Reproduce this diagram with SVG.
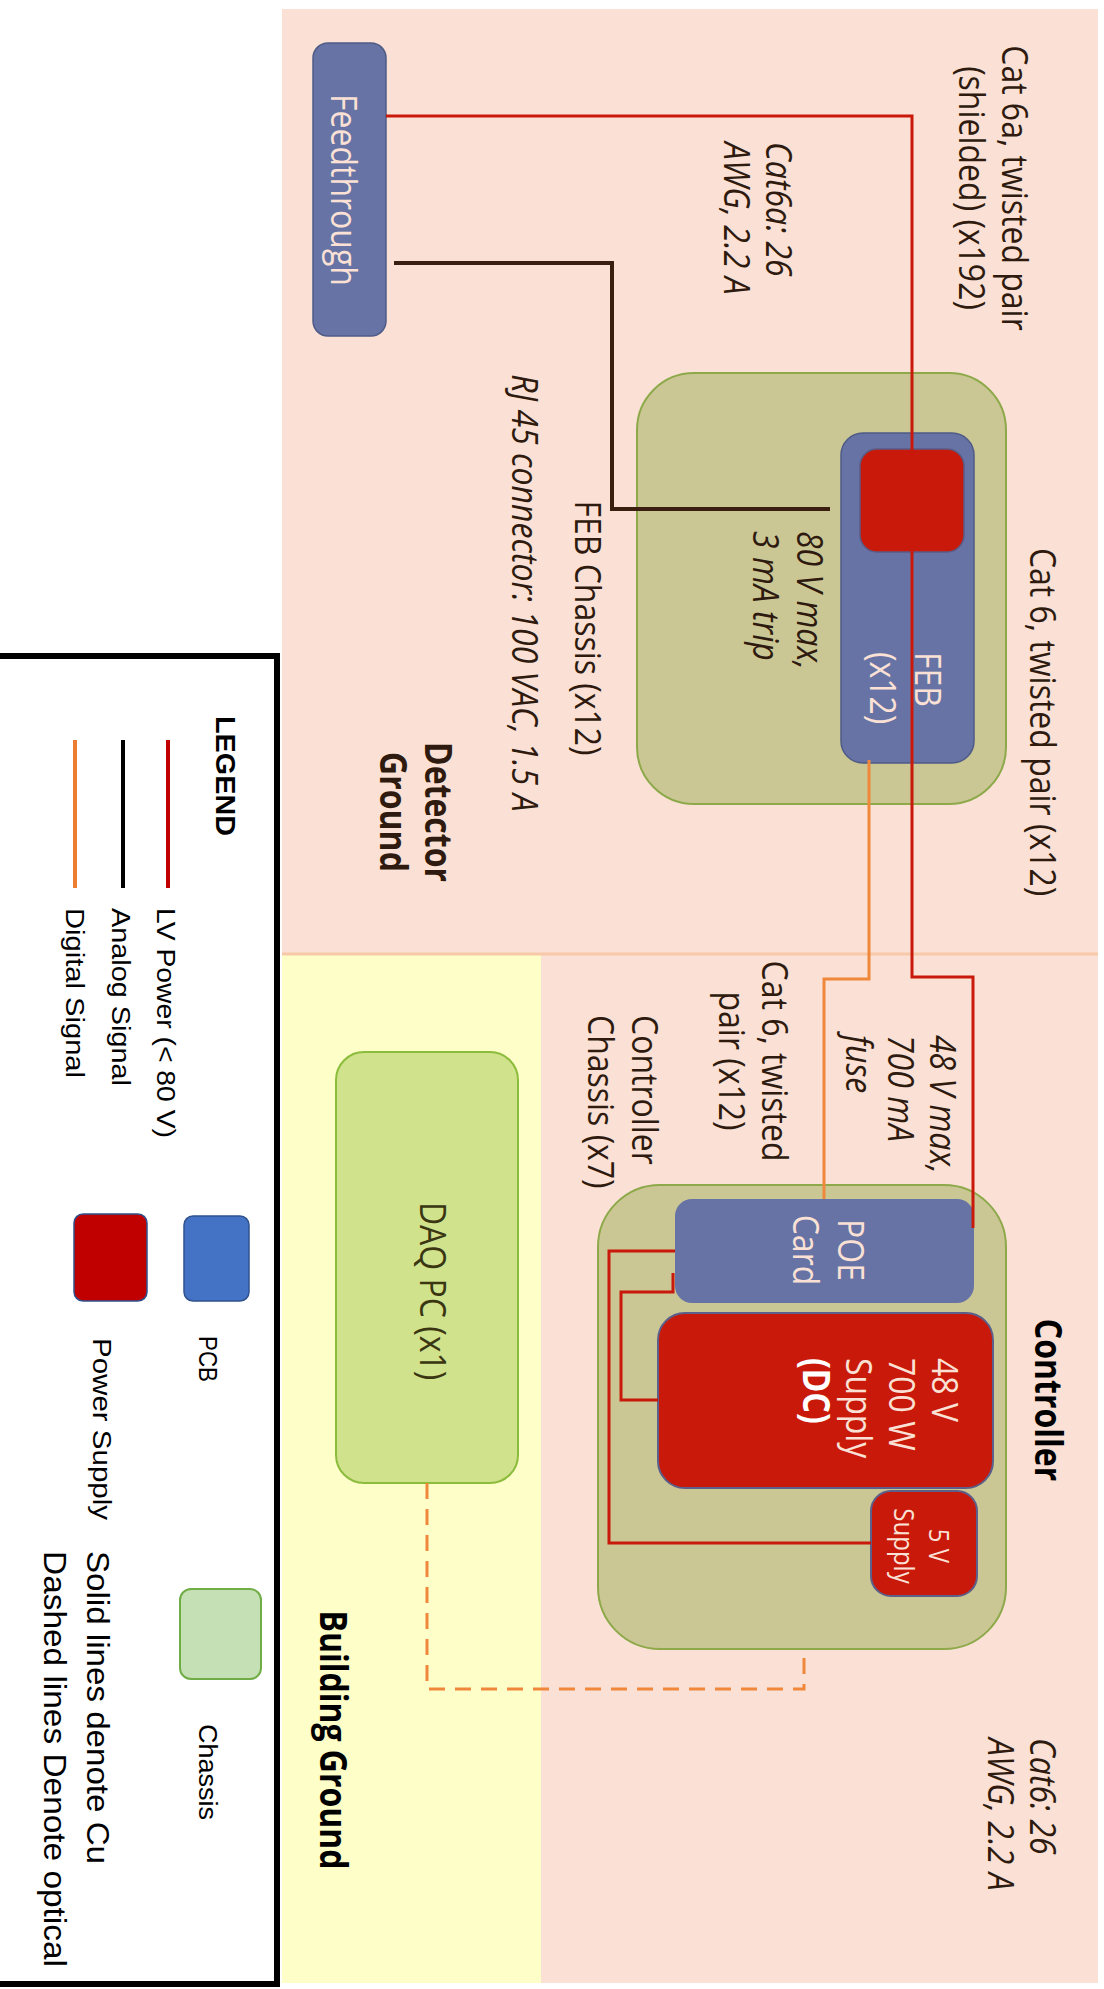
<svg xmlns="http://www.w3.org/2000/svg" width="1104" height="1989" viewBox="0 0 1104 1989">
<style>
.t{font-family:"Open Sans","Noto Sans",sans-serif;font-size:32px;fill:#2e1a0e}
.i{font-style:italic}
.b{font-weight:bold}
.lt{fill:#fbe1d5}
.blk{fill:#000}
.lg{font-family:"Liberation Sans",Arial,sans-serif;font-size:26px;fill:#000}
.chassis{fill:#cbc795;stroke:#8da94a;stroke-width:2}
.pcb{fill:#6673a4;stroke:#4f5b87;stroke-width:1.5}
.ps{fill:#c8190a;stroke:#5b5f8a;stroke-width:2}
.w{fill:none;stroke-width:3;stroke-linejoin:miter}
.red{stroke:#c8190a}
.ana{stroke:#3a1e10;stroke-width:4}
.dig{stroke:#f0883c}
</style>
<rect width="1104" height="1989" fill="#ffffff"/>
<g id="background">
<rect x="282" y="9" width="816" height="1974" fill="#fbe1d5"/>
<rect x="282" y="954" width="259" height="1029" fill="#fefec8"/>
<line x1="282" y1="954" x2="1098" y2="954" stroke="#f7c9a9" stroke-width="3"/>
</g>
<g id="feedthrough">
<rect class="pcb" x="313" y="43" width="73" height="293" rx="15"/>
<text class="t lt" text-anchor="middle" transform="translate(331,190) rotate(90) scale(1,1.16)">Feedthrough</text>
</g>
<g id="feb-chassis">
<rect class="chassis" x="637" y="373" width="369" height="431" rx="57"/>
</g>
<g id="feb">
<rect class="pcb" x="841" y="433" width="133" height="330" rx="22"/>
<rect x="860" y="449" width="104" height="103" rx="17" fill="#c8190a" stroke="#5b5b85" stroke-width="1.5"/>
<text class="t lt" transform="translate(915,652) rotate(90) scale(1,1.16)"><tspan x="0" y="0">FEB</tspan><tspan x="0" dy="39">(x12)</tspan></text>
</g>
<g id="controller-chassis">
<rect class="chassis" x="598" y="1185" width="408" height="464" rx="62"/>
</g>
<g id="poe-card">
<rect x="675" y="1199" width="299" height="104" rx="17" fill="#6673a4"/>
<text class="t lt" text-anchor="middle" transform="translate(838,1250) rotate(90) scale(1,1.16)"><tspan x="0" y="0">POE</tspan><tspan x="0" dy="39">Card</tspan></text>
</g>
<g id="supply-48v">
<rect class="ps" x="658" y="1313" width="335" height="175" rx="27"/>
<text class="t lt" transform="translate(932,1358) rotate(90) scale(1,1.16)"><tspan x="0" y="0">48 V</tspan><tspan x="0" dy="37">700 W</tspan><tspan x="0" dy="37">Supply</tspan><tspan x="0" dy="37" font-weight="bold" fill="#ffffff">(DC)</tspan></text>
</g>
<g id="supply-5v">
<rect class="ps" x="871" y="1491" width="106" height="105" rx="20"/>
<text class="t lt" style="font-size:24px" text-anchor="middle" transform="translate(929,1546) rotate(90) scale(1,1.16)"><tspan x="0" y="0">5 V</tspan><tspan x="0" dy="30">Supply</tspan></text>
</g>
<g id="daq-pc">
<rect x="336" y="1052" width="182" height="431" rx="28" fill="#d0e28c" stroke="#8cbc3c" stroke-width="2"/>
<text class="t" style="fill:#3a3612" text-anchor="middle" transform="translate(420,1291) rotate(90) scale(1,1.16)">DAQ PC (x1)</text>
</g>
<g id="connectors">
<path class="w red" d="M386,116 H912 V977 H973 V1228"/>
<path class="w ana" d="M394,263 H612 V509 H830"/>
<path class="w dig" d="M869,760 V979 H824 V1199"/>
<path class="w red" d="M675,1251 H609 V1543 H871"/>
<path class="w red" d="M673,1273 V1292 H621 V1400 H658"/>
<path class="w dig" stroke-width="4" stroke-dasharray="16 10" d="M427,1483 V1689 H804 V1649"/>
</g>
<g id="labels">
<text class="t" text-anchor="middle" transform="translate(1002,188) rotate(90) scale(1,1.16)"><tspan x="0" y="0">Cat 6a, twisted pair</tspan><tspan x="0" dy="37">(shielded) (x192)</tspan></text>
<text class="t i" transform="translate(766,142) rotate(90) scale(1,1.16)"><tspan x="0" y="0">Cat6a: 26</tspan><tspan x="0" dy="36">AWG, 2.2 A</tspan></text>
<text class="t i" text-anchor="middle" transform="translate(512,593) rotate(90) scale(1,1.16)">RJ 45 connector: 100 VAC, 1.5 A</text>
<text class="t" text-anchor="middle" transform="translate(575,628) rotate(90) scale(1,1.16)">FEB Chassis (x12)</text>
<text class="t i" transform="translate(797,531) rotate(90) scale(1,1.16)"><tspan x="0" y="0">80 V max,</tspan><tspan x="0" dy="38">3 mA trip</tspan></text>
<text class="t" text-anchor="middle" transform="translate(1030,722) rotate(90) scale(1,1.16)">Cat 6, twisted pair (x12)</text>
<text class="t b" text-anchor="middle" transform="translate(425,812) rotate(90) scale(1,1.16)"><tspan x="0" y="0">Detector</tspan><tspan x="0" dy="39">Ground</tspan></text>
<text class="t i" transform="translate(930,1035) rotate(90) scale(1,1.16)"><tspan x="0" y="0">48 V max,</tspan><tspan x="0" dy="36">700 mA</tspan><tspan x="0" dy="36">fuse</tspan></text>
<text class="t" text-anchor="middle" transform="translate(762,1061) rotate(90) scale(1,1.16)"><tspan x="0" y="0">Cat 6, twisted</tspan><tspan x="0" dy="37">pair (x12)</tspan></text>
<text class="t" transform="translate(632,1015) rotate(90) scale(1,1.16)"><tspan x="0" y="0">Controller</tspan><tspan x="0" dy="38">Chassis (x7)</tspan></text>
<text class="t b blk" text-anchor="middle" transform="translate(1035,1400) rotate(90) scale(1,1.16)">Controller</text>
<text class="t b blk" text-anchor="middle" transform="translate(320,1740) rotate(90) scale(1,1.16)">Building Ground</text>
<text class="t i" transform="translate(1030,1738) rotate(90) scale(1,1.16)"><tspan x="0" y="0">Cat6: 26</tspan><tspan x="0" dy="36">AWG, 2.2 A</tspan></text>
</g>
<g id="legend">
<rect x="-10" y="656" width="287" height="1328" fill="#ffffff" stroke="#000000" stroke-width="6"/>
<text class="lg b" style="font-size:27px" textLength="120" lengthAdjust="spacingAndGlyphs" transform="translate(216,716) rotate(90)">LEGEND</text>
<line x1="168" y1="740" x2="168" y2="888" stroke="#c00000" stroke-width="4"/>
<line x1="123" y1="740" x2="123" y2="888" stroke="#000000" stroke-width="4"/>
<line x1="75" y1="740" x2="75" y2="888" stroke="#ed7d31" stroke-width="4"/>
<text class="lg" textLength="230" lengthAdjust="spacingAndGlyphs" transform="translate(157,908) rotate(90)">LV Power (&lt; 80 V)</text>
<text class="lg" textLength="178" lengthAdjust="spacingAndGlyphs" transform="translate(112,908) rotate(90)">Analog Signal</text>
<text class="lg" textLength="170" lengthAdjust="spacingAndGlyphs" transform="translate(66,908) rotate(90)">Digital Signal</text>
<rect x="184" y="1216" width="65" height="85" rx="9" fill="#4472c4" stroke="#2f528f" stroke-width="1.5"/>
<rect x="74" y="1214" width="73" height="87" rx="9" fill="#c00000" stroke="#2f528f" stroke-width="1.5"/>
<rect x="180" y="1589" width="81" height="90" rx="11" fill="#c5e0b4" stroke="#70ad47" stroke-width="2"/>
<text class="lg" textLength="46" lengthAdjust="spacingAndGlyphs" transform="translate(199,1336) rotate(90)">PCB</text>
<text class="lg" textLength="182" lengthAdjust="spacingAndGlyphs" transform="translate(93,1338) rotate(90)">Power Supply</text>
<text class="lg" textLength="96" lengthAdjust="spacingAndGlyphs" transform="translate(199,1724) rotate(90)">Chassis</text>
<text class="lg" style="font-size:32px" textLength="313" lengthAdjust="spacingAndGlyphs" transform="translate(87,1551) rotate(90)">Solid lines denote Cu</text>
<text class="lg" style="font-size:32px" textLength="416" lengthAdjust="spacingAndGlyphs" transform="translate(44,1551) rotate(90)">Dashed lines Denote optical</text>
</g>
</svg>
